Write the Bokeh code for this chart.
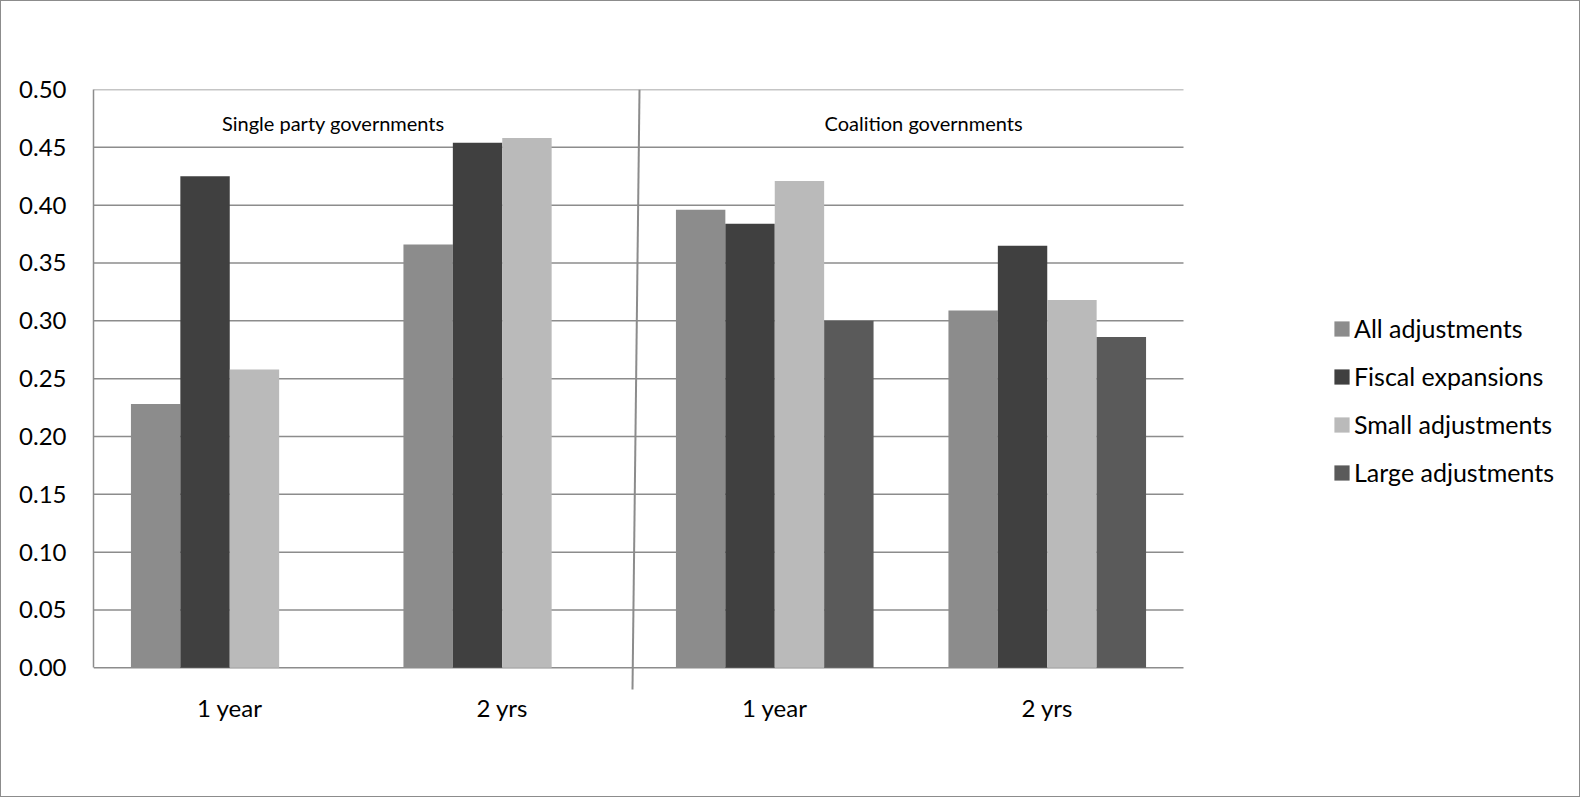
from bokeh.plotting import figure
from bokeh.models import Range1d, FixedTicker, NumeralTickFormatter, Legend, LegendItem, ColumnDataSource
from bokeh.core.properties import value
from bokeh.embed import file_html
from bokeh.resources import INLINE

# ---- data ----
periods = ["1 year", "2 yrs", "1 year", "2 yrs"]
groups = ["Single party governments", "Coalition governments"]
series_names = ["All adjustments", "Fiscal expansions", "Small adjustments", "Large adjustments"]
all_adjustments = [0.228, 0.366, 0.396, 0.309]
fiscal_expansions = [0.425, 0.454, 0.384, 0.365]
small_adjustments = [0.258, 0.458, 0.421, 0.318]
large_adjustments = [None, None, 0.300, 0.286]
y_ticks = [0.00, 0.05, 0.10, 0.15, 0.20, 0.25, 0.30, 0.35, 0.40, 0.45, 0.50]

series_values = [all_adjustments, fiscal_expansions, small_adjustments, large_adjustments]
colors = ["#8c8c8c", "#404040", "#bababa", "#5a5a5a"]

FONT = "Lato"
GRID = "#8c8c8c"

n_cat = len(periods)
W, H = 1580, 797
LEFT, TOP, BOTTOM = 92, 88, 108
px_per_unit = 1090 / n_cat
x_end = (W - LEFT) / px_per_unit   # frame spans to the right edge so the legend is not clipped

p = figure(width=W, height=H, output_backend="svg", toolbar_location=None,
           x_range=Range1d(0, x_end), y_range=Range1d(-0.0196, 0.5),
           min_border_left=LEFT, min_border_right=0, min_border_top=TOP, min_border_bottom=BOTTOM)
p.outline_line_color = None
p.background_fill_color = "white"
p.border_fill_color = "white"
p.styles = {"border": "1px solid #8c8c8c"}

# axes
p.xaxis.ticker = FixedTicker(ticks=[i + 0.5 for i in range(n_cat)])
p.xaxis.major_label_overrides = {i + 0.5: lab for i, lab in enumerate(periods)}
p.xaxis.axis_line_color = None
p.xaxis.major_tick_line_color = None
p.xaxis.minor_tick_line_color = None
p.xaxis.major_label_text_font = FONT
p.xaxis.major_label_text_font_size = "24px"
p.xaxis.major_label_text_color = "black"
p.xaxis.major_label_standoff = -4

p.yaxis.ticker = FixedTicker(ticks=y_ticks)
p.yaxis.formatter = NumeralTickFormatter(format="0.00")
p.yaxis.bounds = (0, 0.5)
p.yaxis.axis_line_color = GRID
p.yaxis.axis_line_width = 1.5
p.yaxis.major_tick_line_color = None
p.yaxis.minor_tick_line_color = None
p.yaxis.major_label_text_font = FONT
p.yaxis.major_label_text_font_size = "24px"
p.yaxis.major_label_text_color = "black"
p.yaxis.major_label_standoff = 21

p.xgrid.grid_line_color = None
p.ygrid.grid_line_color = None

# horizontal gridlines limited to the category area
p.segment(x0=[0] * len(y_ticks), x1=[n_cat] * len(y_ticks), y0=y_ticks, y1=y_ticks,
          line_color=GRID, line_width=1.5)

# bars
w = 0.1813
n = len(series_names)
items = []
for j, (name, vals, col) in enumerate(zip(series_names, series_values, colors)):
    xs = [i + 0.5 + (j - (n - 1) / 2) * w for i, v in enumerate(vals) if v is not None]
    tops = [v for v in vals if v is not None]
    src = ColumnDataSource(dict(x=xs, top=tops))
    r = p.vbar(x="x", top="top", bottom=0, width=w, source=src,
               fill_color=col, line_color=None)
    items.append(LegendItem(label=name, renderers=[r]))

# divider between the two government types
boundary = n_cat / 2
p.segment(x0=[boundary + 0.0037], y0=[0.5], x1=[boundary - 0.022], y1=[-0.0188],
          line_color=GRID, line_width=2)

# group titles
p.text(x=[0.88, 3.046], y=[0.471, 0.471], text=groups,
       text_align="center", text_baseline="middle",
       text_font=value(FONT), text_font_size="20px", text_color="black")

legend = Legend(items=items, location=(1239, 203), border_line_color=None,
                background_fill_alpha=0, glyph_width=19, glyph_height=19,
                label_text_font=FONT, label_text_font_size="25px",
                label_text_color="black", label_height=24, spacing=18,
                padding=0, label_standoff=3, margin=0)
p.add_layout(legend, "center")

open("out.html", "w").write(file_html(p, INLINE))
